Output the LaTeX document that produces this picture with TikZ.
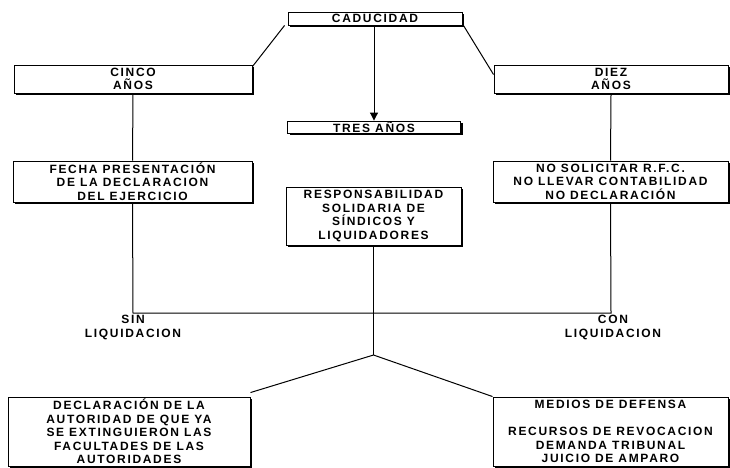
\documentclass[tikz,border=0pt]{standalone}
\usepackage{fontspec}
\newfontfamily\lblfam[LetterSpace=14]{Liberation Sans}
\newcommand\lblfont{\lblfam\bfseries\fontsize{12}{13.5}\selectfont}
\usetikzlibrary{arrows.meta}
\tikzset{
  box/.style={draw, fill=white, line width=0.9pt, inner sep=0pt, align=center, font=\lblfont},
  shade/.style={line width=1.8pt},
  lbl/.style={align=center, font=\lblfont, inner sep=0pt},
  conn/.style={line width=1pt}
}
\newcommand\boxshadow[1]{%
  \draw[shade] ([xshift=0.9pt,yshift=-2.5pt]#1.north east) -- ([xshift=0.9pt,yshift=-0.9pt]#1.south east) -- ([xshift=2.5pt,yshift=-0.9pt]#1.south west);}
\begin{document}
\begin{tikzpicture}[x=1pt,y=-1pt]
\useasboundingbox (0,0) rectangle (730,467);
\fill[white] (0,0) rectangle (730,467);
% boxes
\node[box, minimum width=174pt, minimum height=13pt] (cad) at (375,18.5) {CADUCIDAD};
\node[box, minimum width=238pt, minimum height=28pt] (cinco) at (133,79) {CINCO\\AÑOS};
\node[box, minimum width=234pt, minimum height=28pt] (diez) at (611,79) {DIEZ\\AÑOS};
\node[box, minimum width=173pt, minimum height=12pt] (tres) at (374,127) {TRES AÑOS};
\node[box, minimum width=239pt, minimum height=41pt] (fecha) at (132.5,181.5) {FECHA PRESENTACIÓN\\DE LA DECLARACION\\DEL EJERCICIO};
\node[box, minimum width=235pt, minimum height=41pt] (nosol) at (610.5,181.5) {NO SOLICITAR R.F.C.\\NO LLEVAR CONTABILIDAD\\NO DECLARACIÓN};
\node[box, minimum width=175pt, minimum height=58pt] (resp) at (373.5,216) {RESPONSABILIDAD\\SOLIDARIA DE\\SÍNDICOS Y\\LIQUIDADORES};
\node[box, minimum width=242pt, minimum height=69pt] (botl) at (129,431.5) {DECLARACIÓN DE LA\\AUTORIDAD DE QUE YA\\SE EXTINGUIERON LAS\\FACULTADES DE LAS\\AUTORIDADES};
\node[box, minimum width=235pt, minimum height=69pt] (botr) at (610.5,431.5) {MEDIOS DE DEFENSA\\[13.5pt]RECURSOS DE REVOCACION\\DEMANDA TRIBUNAL\\JUICIO DE AMPARO};
\foreach \n in {cad,cinco,diez,tres,fecha,nosol,resp,botl,botr} {\boxshadow{\n}}
% labels
\node[lbl] (sin) at (133,327.5) {SIN\\LIQUIDACION};
\node[lbl] (con) at (613,327.5) {CON\\LIQUIDACION};
% coordinates
\coordinate (hl) at (133,313);
\coordinate (hr) at (611,313);
\coordinate (vtx) at (373.5,355);
% connectors
\draw[conn] ([xshift=-3pt]cad.south west) -- ([yshift=-2pt]cinco.north east);
\draw[conn] ([xshift=1pt]cad.south east) -- ([yshift=-10pt]diez.north west);
\draw[conn, -{Triangle[length=8pt,width=8pt]}] ([yshift=-1pt]cad.south -| tres.north) -- (tres.north);
\draw[conn] ([yshift=-1pt]cinco.south) -- (fecha.north);
\draw[conn] ([yshift=-1pt]diez.south) -- (nosol.north);
\draw[conn] ([yshift=-1pt]fecha.south) -- (hl) -- (hr) -- ([yshift=-1pt]nosol.south);
\draw[conn] ([yshift=-1pt]resp.south) -- (vtx);
\draw[conn] ([yshift=4pt]botl.north east) -- (vtx) -- (botr.north west);
\end{tikzpicture}
\end{document}
